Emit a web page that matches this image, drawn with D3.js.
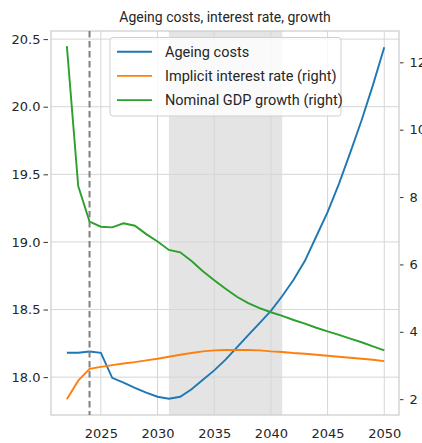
<!DOCTYPE html>
<html><head><meta charset="utf-8">
<script src="https://cdn.jsdelivr.net/npm/d3@7"></script>
<style>body{margin:0;background:#fff;overflow:hidden}svg{display:block}</style>
</head><body>
<script>
const years = d3.range(2022, 2051);
const ageingCosts = [18.18,18.18,18.19,18.18,17.995,17.96,17.92,17.885,17.855,17.84,17.855,17.91,17.98,18.05,18.13,18.22,18.31,18.40,18.49,18.60,18.72,18.86,19.04,19.22,19.43,19.66,19.90,20.16,20.44];
const interestRate = [2.00,2.55,2.90,2.96,3.01,3.06,3.10,3.15,3.20,3.26,3.32,3.37,3.42,3.45,3.46,3.46,3.46,3.45,3.42,3.40,3.37,3.35,3.32,3.29,3.26,3.23,3.20,3.17,3.13];
const gdpGrowth = [12.48,8.33,7.27,7.12,7.10,7.22,7.15,6.90,6.68,6.43,6.36,6.10,5.80,5.53,5.28,5.04,4.85,4.70,4.58,4.47,4.35,4.24,4.12,4.01,3.91,3.80,3.69,3.57,3.45];
const xTicks = [2025,2030,2035,2040,2045,2050];
const leftTicks = [18.0,18.5,19.0,19.5,20.0,20.5];
const rightTicks = [2,4,6,8,10,12];
const seriesNames = ["Ageing costs","Implicit interest rate (right)","Nominal GDP growth (right)"];
const seriesColors = ["#1f77b4","#ff7f0e","#2ca02c"];
const shadeRange = [2031, 2041];
const markerYear = 2024;
const title = "Ageing costs, interest rate, growth";

const W = 422, H = 443;
const L = 51, R = 399, T = 31, B = 415;
const svg = d3.select("body").append("svg").attr("width", W).attr("height", H);

const x = d3.scaleLinear().domain([2020.6, 2051.3]).range([L, R]);
const yL = d3.scaleLinear().domain([17.72, 20.56]).range([B, T]);
const yR = d3.scaleLinear().domain([1.53, 12.93]).range([B, T]);

// shaded band
svg.append("rect").attr("x", x(shadeRange[0])).attr("y", T)
  .attr("width", x(shadeRange[1]) - x(shadeRange[0])).attr("height", B - T)
  .attr("fill", "#000").attr("fill-opacity", 0.105);

// grid
const grid = svg.append("g").attr("stroke", "#d6d6d6").attr("stroke-width", 1);
xTicks.forEach(t => grid.append("line").attr("x1", x(t)).attr("x2", x(t)).attr("y1", T).attr("y2", B));
leftTicks.forEach(t => grid.append("line").attr("x1", L).attr("x2", R).attr("y1", yL(t)).attr("y2", yL(t)));

// spines
svg.append("rect").attr("x", L).attr("y", T).attr("width", R - L).attr("height", B - T)
  .attr("fill", "none").attr("stroke", "#cccccc").attr("stroke-width", 1.2);

// axes
const fontAx = "DejaVu Sans";
const xAxis = svg.append("g").attr("transform", `translate(0,${B})`)
  .call(d3.axisBottom(x).tickValues(xTicks).tickFormat(d3.format("d")).tickSize(0).tickPadding(14));
const yAxisL = svg.append("g").attr("transform", `translate(${L - 3},0)`)
  .call(d3.axisLeft(yL).tickValues(leftTicks).tickFormat(d3.format(".1f")).tickSize(4.5).tickPadding(3));
const yAxisR = svg.append("g").attr("transform", `translate(${R + 1},0)`)
  .call(d3.axisRight(yR).tickValues(rightTicks).tickFormat(d3.format("d")).tickSize(3.5).tickPadding(6));
[xAxis, yAxisL, yAxisR].forEach(g => {
  g.select(".domain").remove();
  g.selectAll("line").attr("stroke", "#333").attr("stroke-width", 1);
  g.selectAll("text").attr("font-family", fontAx).attr("font-size", 13).attr("fill", "#262626");
});

// lines
const lineL = d3.line().x((d, i) => x(years[i])).y(d => yL(d));
const lineR = d3.line().x((d, i) => x(years[i])).y(d => yR(d));
svg.append("path").datum(ageingCosts).attr("d", lineL).attr("fill", "none").attr("stroke", seriesColors[0]).attr("stroke-width", 1.9);
svg.append("path").datum(interestRate).attr("d", lineR).attr("fill", "none").attr("stroke", seriesColors[1]).attr("stroke-width", 1.9);
svg.append("path").datum(gdpGrowth).attr("d", lineR).attr("fill", "none").attr("stroke", seriesColors[2]).attr("stroke-width", 1.9);

// dashed marker
svg.append("line").attr("x1", x(markerYear)).attr("x2", x(markerYear)).attr("y1", T).attr("y2", B)
  .attr("stroke", "#808080").attr("stroke-width", 2).attr("stroke-dasharray", "6.5,3.5");

// legend
const lg = svg.append("g");
lg.append("rect").attr("x", 110).attr("y", 37.5).attr("width", 231).attr("height", 78.5).attr("rx", 3)
  .attr("fill", "#fff").attr("fill-opacity", 0.8).attr("stroke", "#d0d0d0").attr("stroke-width", 1);
seriesNames.forEach((n, i) => {
  const yy = 51.7 + i * 24.2;
  lg.append("line").attr("x1", 117).attr("x2", 152).attr("y1", yy).attr("y2", yy)
    .attr("stroke", seriesColors[i]).attr("stroke-width", 1.9);
  lg.append("text").attr("x", 165).attr("y", yy).attr("dy", "0.36em").text(n)
    .attr("font-family", "Roboto").attr("font-size", 14.5).attr("fill", "#262626");
});

// title
svg.append("text").attr("x", (L + R) / 2).attr("y", 21.5).attr("text-anchor", "middle").text(title)
  .attr("font-family", "Roboto").attr("font-size", 14).attr("fill", "#262626");
</script>
</body></html>
